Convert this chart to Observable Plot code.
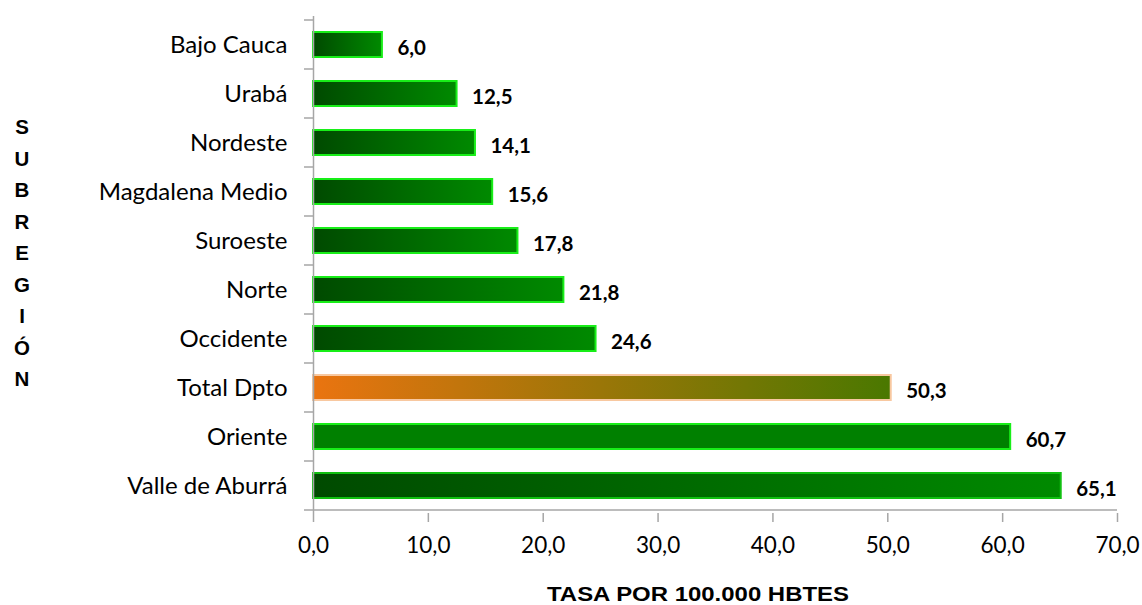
<!DOCTYPE html>
<html>
<head>
<meta charset="utf-8">
<script src="https://cdn.jsdelivr.net/npm/d3@7"></script>
<script src="https://cdn.jsdelivr.net/npm/@observablehq/plot@0.6"></script>
<style>
  html, body { margin: 0; padding: 0; background: white; }
  #chart { width: 1142px; height: 605px; }
</style>
</head>
<body>
<div id="chart"></div>
<script>
const categories = ["Bajo Cauca", "Urabá", "Nordeste", "Magdalena Medio", "Suroeste", "Norte", "Occidente", "Total Dpto", "Oriente", "Valle de Aburrá"];
const values = [6.0, 12.5, 14.1, 15.6, 17.8, 21.8, 24.6, 50.3, 60.7, 65.1];
const xTicks = [0, 10, 20, 30, 40, 50, 60, 70];
const xTitle = "TASA POR 100.000 HBTES";
const yTitle = "SUBREGIÓN";

const data = categories.map((c, i) => ({cat: c, value: values[i]}));
const fmt = v => v.toFixed(1).replace(".", ",");

const fillFor = d => d.cat === "Total Dpto" ? "url(#gOrange)" : d.cat === "Oriente" ? "#008000" : "url(#gGreen)";
const strokeFor = d => d.cat === "Total Dpto" ? "#f8c8a0" : d.cat === "Valle de Aburrá" ? "#10c010" : "#18ee18";

const chart = Plot.plot({
  width: 1142,
  height: 605,
  marginLeft: 313,
  marginRight: 25,
  marginTop: 16,
  marginBottom: 92,
  style: {fontFamily: "Lato, sans-serif", background: "white", color: "black"},
  x: {domain: [0, 70]},
  y: {domain: categories, paddingInner: 0.5, paddingOuter: 0.25},
  color: {type: "identity"},
  marks: [
    Plot.barX(data, {x: "value", y: "cat", fill: fillFor, stroke: strokeFor, strokeWidth: 2}),
    Plot.text(data, {x: "value", y: "cat", text: d => fmt(d.value), textAnchor: "start", dx: 15, dy: 3, fontWeight: "bold", fontSize: 20.5, fill: "black"}),
    Plot.axisY({tickSize: 0, tickPadding: 26, fontSize: 24, label: null}),
    Plot.axisX({ticks: xTicks, tickFormat: fmt, tickSize: 9, tickPadding: 15, fontSize: 22.5, label: null, stroke: "#a6a6a6", strokeWidth: 1.5}),
    Plot.ruleX([0], {stroke: "#a6a6a6", strokeWidth: 1.5})
  ]
});

document.getElementById("chart").appendChild(chart);

const svg = d3.select(chart);
const defs = svg.insert("defs", ":first-child");
const gg = defs.append("linearGradient").attr("id", "gGreen").attr("x1", "0").attr("x2", "1").attr("y1", "0").attr("y2", "0");
gg.append("stop").attr("offset", "0").attr("stop-color", "#004a00");
gg.append("stop").attr("offset", "1").attr("stop-color", "#008a00");
const go = defs.append("linearGradient").attr("id", "gOrange").attr("x1", "0").attr("x2", "1").attr("y1", "0").attr("y2", "0");
go.append("stop").attr("offset", "0").attr("stop-color", "#ea7410");
go.append("stop").attr("offset", "1").attr("stop-color", "#4a7800");

// category boundary ticks and x axis line, placed with Plot's own scales
const ys = chart.scale("y");
const xs = chart.scale("x");
const x0 = xs.apply(0), x70 = xs.apply(70);
const step = ys.step, bw = ys.bandwidth;
const bounds = [];
categories.forEach((c, i) => {
  const center = ys.apply(c) + bw / 2;
  if (i === 0) bounds.push(center - step / 2);
  bounds.push(center + step / 2);
});
const g = svg.append("g").attr("stroke", "#a6a6a6").attr("stroke-width", 1.5);
bounds.forEach(b => g.append("line").attr("x1", x0 - 9).attr("x2", x0).attr("y1", b).attr("y2", b));
const yBottom = bounds[bounds.length - 1];
g.append("line").attr("x1", x0).attr("x2", x70).attr("y1", yBottom).attr("y2", yBottom);

// titles
svg.append("text").attr("x", 698).attr("y", 601).attr("text-anchor", "middle")
  .attr("font-family", "'Liberation Sans', Arial, sans-serif").attr("font-weight", "bold").attr("font-size", 20)
  .attr("textLength", 302).attr("lengthAdjust", "spacingAndGlyphs")
  .attr("fill", "black").text(xTitle);
const yt = svg.append("text").attr("text-anchor", "middle")
  .attr("font-family", "'Liberation Sans', Arial, sans-serif").attr("font-weight", "bold").attr("font-size", 20.5).attr("fill", "black");
Array.from(yTitle).forEach((ch, i) => {
  yt.append("tspan").attr("x", 22).attr("y", 134 + i * 31.5).text(ch);
});
</script>
</body>
</html>
